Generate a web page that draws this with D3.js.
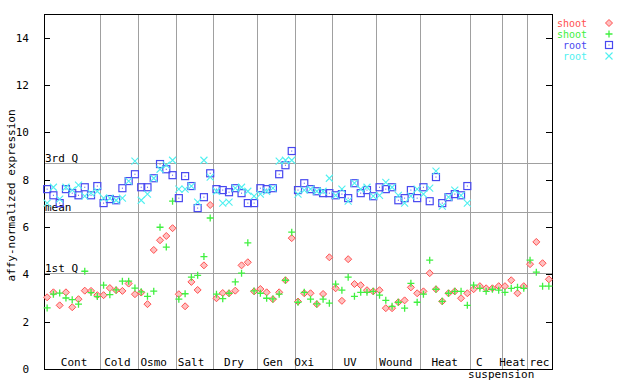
<!DOCTYPE html>
<html lang="en">
<head>
    <meta charset="UTF-8">
    <title>affy-normalized expression</title>
    <script src="https://d3js.org/d3.v7.min.js"></script>
    <style>
        body { margin: 0; background: white; }
        text { font-family: "DejaVu Sans Mono", monospace; font-size: 11px; }
    </style>
</head>
<body>
<div id="chart"></div>
<script>
    // groups of samples, in order, with number of samples in each
    var groups = ["Cont", "Cold", "Osmo", "Salt", "Dry", "Gen", "Oxi", "UV", "Wound", "Heat", "C suspension", "Heat", "rec"];
    var groupSizes = [9, 6, 6, 6, 7, 6, 6, 7, 7, 8, 5, 4, 4];

    // label lines and their positions (in sample units)
    var labelLines = [
        ["Cont", 4.3, 0], ["Cold", 11.2, 0], ["Osmo", 17.0, 0], ["Salt", 22.95, 0], ["Dry", 29.8, 0],
        ["Gen", 36.0, 0], ["Oxi", 41.0, 0], ["UV", 48.3, 0], ["Wound", 55.6, 0], ["Heat", 63.4, 0],
        ["C", 68.9, 0], ["suspension", 72.4, 1], ["Heat", 74.2, 0], ["rec", 78.5, 0]
    ];

    var yTicks = [0, 2, 4, 6, 8, 10, 12, 14];

    var stats = [
        {name: "3rd Q", value: 8.70},
        {name: "mean", value: 6.64},
        {name: "1st Q", value: 4.07}
    ];

    var shootA = [
        3.03, 3.24, 2.69, 3.24, 2.61, 2.95, 3.31, 3.30, 3.12,
        3.12, 3.42, 3.33, 3.30, 3.61, 3.16,
        3.23, 2.74, 5.03, 5.44, 5.62, 5.95,
        3.16, 2.65, 3.68, 3.34, 4.38, 6.93,
        2.99, 3.21, 3.20, 3.31, 4.38, 4.51, 3.28,
        3.38, 3.24, 2.95, 3.24, 3.75, 5.53,
        2.85, 3.20, 3.20, 2.74, 3.17, 4.72,
        3.41, 2.88, 4.64, 3.59, 3.54, 3.33, 3.28,
        3.33, 2.57, 2.57, 2.82, 2.90, 3.45, 3.20,
        3.28, 4.05, 3.37, 2.86, 3.20, 3.28, 2.99, 3.20,
        3.37, 3.50, 3.41, 3.41, 3.50,
        3.50, 3.75, 3.20, 3.50,
        4.43, 5.37, 4.47, 3.79
    ];

    var shootB = [
        2.58, 3.16, 3.21, 3.00, 2.93, 2.74, 4.13, 3.23, 3.06,
        3.54, 3.14, 3.34, 3.71, 3.71, 3.42,
        3.26, 3.07, 3.29, 5.99, 5.15, 7.09,
        2.95, 3.18, 3.88, 3.96, 4.75, 6.38,
        3.16, 2.97, 3.20, 3.68, 4.05, 5.33, 3.30,
        3.20, 2.99, 2.96, 3.16, 3.75, 5.78,
        2.82, 3.24, 2.95, 2.75, 2.95, 2.78,
        3.59, 3.33, 3.88, 3.07, 3.24, 3.24, 3.28,
        3.12, 2.90, 2.65, 2.82, 2.57, 3.62, 2.82,
        3.16, 4.60, 3.37, 2.86, 3.20, 3.28, 3.28, 2.69,
        3.54, 3.41, 3.28, 3.37, 3.33,
        3.24, 3.41, 3.45, 3.41,
        4.60, 4.09, 3.50, 3.50
    ];

    // root has no values for the last three groups
    var rootA = [
        7.60, 7.34, 7.01, 7.60, 7.43, 7.34, 7.68, 7.34, 7.73,
        7.01, 7.18, 7.13, 7.64, 7.94, 8.23,
        7.68, 7.68, 8.06, 8.66, 8.44, 8.19,
        7.22, 8.15, 7.73, 6.80, 7.26, 8.27,
        7.60, 7.56, 7.47, 7.64, 7.43, 7.01, 7.01,
        7.64, 7.60, 7.64, 8.23, 8.61, 9.21,
        7.56, 7.85, 7.60, 7.51, 7.43, 7.43,
        7.34, 7.39, 7.22, 7.85, 7.43, 7.56, 7.30,
        7.68, 7.60, 7.68, 7.13, 7.22, 7.56, 7.22,
        7.68, 7.09, 8.11, 7.01, 7.26, 7.39, 7.34, 7.73
    ];

    var rootB = [
        7.01, 7.68, 7.18, 7.68, 7.56, 7.77, 7.30, 7.43, 7.51,
        7.22, 7.22, 7.13, 7.22, 7.94, 8.78,
        7.13, 7.39, 8.06, 8.44, 8.61, 8.82,
        7.60, 7.60, 7.73, 7.05, 8.82, 8.11,
        7.51, 7.01, 7.05, 7.64, 7.68, 7.51, 7.30,
        7.39, 7.51, 7.64, 8.78, 8.82, 8.82,
        7.39, 7.56, 7.60, 7.51, 7.51, 8.06,
        7.34, 7.60, 7.09, 7.85, 7.60, 7.68, 7.30,
        7.34, 7.89, 7.68, 7.34, 7.01, 7.30, 7.60,
        7.39, 7.64, 8.36, 6.88, 7.26, 7.56, 7.34, 7.01
    ];

    var series = [
        {name: "shoot", values: shootA, color: "#ff5050", shape: "diamond"},
        {name: "shoot", values: shootB, color: "#40f040", shape: "plus"},
        {name: "root", values: rootA, color: "#4848f0", shape: "square"},
        {name: "root", values: rootB, color: "#50f0f0", shape: "cross"}
    ];

    var nSamples = d3.sum(groupSizes);

    var width = 640, height = 384;
    var plotLeft = 44, plotRight = 552, plotTop = 14, plotBottom = 369;

    var svg = d3.select("#chart").append("svg")
        .attr("width", width)
        .attr("height", height);

    var x = d3.scaleLinear().domain([-0.5, nSamples - 0.5]).range([plotLeft, plotRight]);
    var y = d3.scaleLinear().domain([0, 15]).range([plotBottom, plotTop]);

    // group separators
    var bounds = [];
    var acc = 0;
    groupSizes.forEach(function (n, i) {
        acc += n;
        if (i < groupSizes.length - 1) bounds.push(acc - 0.5);
    });

    svg.append("g").selectAll("line")
        .data(bounds)
        .enter().append("line")
        .attr("x1", function (d) { return Math.round(x(d)) + 0.5; })
        .attr("x2", function (d) { return Math.round(x(d)) + 0.5; })
        .attr("y1", plotTop)
        .attr("y2", plotBottom)
        .style("stroke", "#a0a0a0")
        .style("shape-rendering", "crispEdges");

    // quartile / mean lines
    var statG = svg.append("g");
    stats.forEach(function (s) {
        var yy = Math.round(y(s.value)) + 0.5;
        statG.append("line")
            .attr("x1", plotLeft).attr("x2", plotRight)
            .attr("y1", yy).attr("y2", yy)
            .style("stroke", "#a0a0a0")
            .style("shape-rendering", "crispEdges");
        statG.append("text")
            .attr("x", plotLeft + 1)
            .attr("y", yy - 2)
            .text(s.name);
    });

    // axes
    var axisLeft = d3.axisLeft(y).tickValues(yTicks).tickSizeInner(-6).tickSizeOuter(0).tickPadding(15);
    var gl = svg.append("g").attr("transform", "translate(" + plotLeft + ",0)").call(axisLeft);
    gl.select(".domain").remove();
    gl.selectAll("text").style("font-family", "DejaVu Sans Mono").style("font-size", "11px").attr("fill", "black");

    var axisRight = d3.axisRight(y).tickValues(yTicks).tickSizeInner(-6).tickSizeOuter(0).tickFormat("");
    var gr = svg.append("g").attr("transform", "translate(" + plotRight + ",0)").call(axisRight);
    gr.select(".domain").remove();

    svg.selectAll(".tick line").style("stroke", "black").style("shape-rendering", "crispEdges");

    svg.append("rect")
        .attr("x", plotLeft + 0.5)
        .attr("y", plotTop + 0.5)
        .attr("width", plotRight - plotLeft)
        .attr("height", plotBottom - plotTop)
        .style("fill", "none")
        .style("stroke", "black")
        .style("shape-rendering", "crispEdges");

    // group labels
    svg.append("g").selectAll("text")
        .data(labelLines)
        .enter().append("text")
        .attr("x", function (d) { return x(d[1]); })
        .attr("y", function (d) { return plotBottom - 3 + d[2] * 12; })
        .attr("text-anchor", "middle")
        .text(function (d) { return d[0]; });

    svg.append("text")
        .attr("transform", "translate(15," + ((plotTop + plotBottom) / 2 + 4) + ") rotate(-90)")
        .attr("text-anchor", "middle")
        .text("affy-normalized expression");

    var symbol = function (g, shape, color) {
        var r = 3.5;
        if (shape === "diamond") {
            g.append("path")
                .attr("d", "M0," + (-r) + "L" + r + ",0L0," + r + "L" + (-r) + ",0Z")
                .style("fill", "#ffc0c0")
                .style("stroke", color);
        } else if (shape === "plus") {
            g.append("path")
                .attr("d", "M" + (-r) + ",0H" + r + "M0," + (-r) + "V" + r)
                .style("stroke", color)
                .style("stroke-width", 1.3);
        } else if (shape === "square") {
            g.append("rect")
                .attr("x", -r).attr("y", -r)
                .attr("width", 2 * r).attr("height", 2 * r)
                .style("fill", "none")
                .style("stroke", color)
                .style("stroke-width", 1.2);
            g.append("rect")
                .attr("x", -0.5).attr("y", -0.5)
                .attr("width", 1).attr("height", 1)
                .style("fill", color);
        } else {
            g.append("path")
                .attr("d", "M" + (-r) + "," + (-r) + "L" + r + "," + r + "M" + (-r) + "," + r + "L" + r + "," + (-r))
                .style("stroke", color)
                .style("stroke-width", 1.1);
        }
    };

    // points
    series.forEach(function (s) {
        var g = svg.append("g");
        s.values.forEach(function (v, i) {
            if (v == null) return;
            var p = g.append("g").attr("transform", "translate(" + x(i) + "," + y(v) + ")");
            symbol(p, s.shape, s.color);
        });
    });

    // legend
    var legend = svg.append("g");
    series.forEach(function (s, i) {
        var ly = 23 + i * 11;
        legend.append("text")
            .attr("x", 587)
            .attr("y", ly + 4)
            .attr("text-anchor", "end")
            .style("font-size", "10px")
            .style("fill", s.color)
            .text(s.name);
        symbol(legend.append("g").attr("transform", "translate(609," + ly + ")"), s.shape, s.color);
    });
</script>
</body>
</html>
